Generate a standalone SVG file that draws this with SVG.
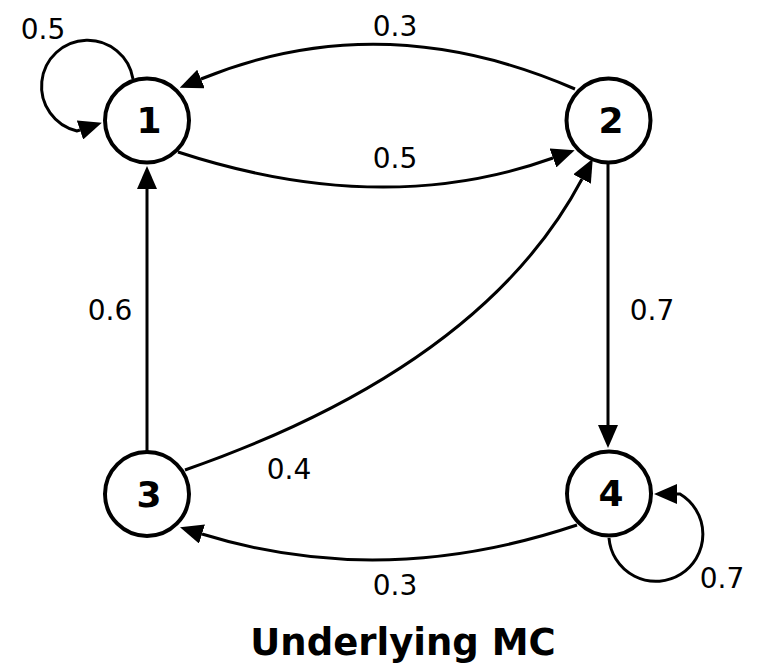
<svg xmlns="http://www.w3.org/2000/svg" width="758" height="663" viewBox="0 0 758 663">
<style>
.node circle{fill:#fff;stroke:#000;stroke-width:4}
.node text{font-family:"DejaVu Sans",sans-serif;font-weight:bold;font-size:36px;text-anchor:middle;fill:#000}
.edge{fill:none;stroke:#000;stroke-width:3;marker-end:url(#ah)}
.lbl{font-family:"DejaVu Sans",sans-serif;font-size:28px;text-anchor:middle;fill:#000}
.title{font-family:"DejaVu Sans",sans-serif;font-weight:bold;font-size:37px;text-anchor:middle;fill:#000}
</style>
<defs>
<marker id="ah" viewBox="0 -10 23 20" refX="0" refY="0" markerWidth="23" markerHeight="20" markerUnits="userSpaceOnUse" orient="auto">
<path d="M0,-10 L23,0 L0,10 z" fill="#000"/>
</marker>
</defs>
<rect width="758" height="663" fill="#fff"/>
<g id="connectors">
<path class="edge" d="M133,79 A46,46 0 1 0 77,131 L80,130"/>
<path class="edge" d="M575,89 Q382,5 201,79"/>
<path class="edge" d="M178,152 Q383,219 553,158"/>
<path class="edge" d="M147,452 L147,189"/>
<path class="edge" d="M185,470 Q483,366 582,179"/>
<path class="edge" d="M608,164 L608,425"/>
<path class="edge" d="M577,525 Q383,590 202,534"/>
<path class="edge" d="M609,538 A47,47 0 1 0 680,494 L677,494"/>
<text class="lbl" x="43" y="39">0.5</text>
<text class="lbl" x="395" y="36">0.3</text>
<text class="lbl" x="395" y="168">0.5</text>
<text class="lbl" x="110" y="320">0.6</text>
<text class="lbl" x="652" y="320">0.7</text>
<text class="lbl" x="289" y="479">0.4</text>
<text class="lbl" x="395" y="595">0.3</text>
<text class="lbl" x="722" y="588">0.7</text>
</g>
<g id="node1" class="node"><circle cx="147" cy="120.5" r="42"/><text x="149" y="133">1</text></g>
<g id="node2" class="node"><circle cx="608.5" cy="120.5" r="42"/><text x="611" y="133">2</text></g>
<g id="node3" class="node"><circle cx="147" cy="494" r="42"/><text x="149" y="507">3</text></g>
<g id="node4" class="node"><circle cx="609" cy="493.5" r="42"/><text x="611" y="506">4</text></g>
<text class="title" x="403" y="655">Underlying MC</text>
</svg>
